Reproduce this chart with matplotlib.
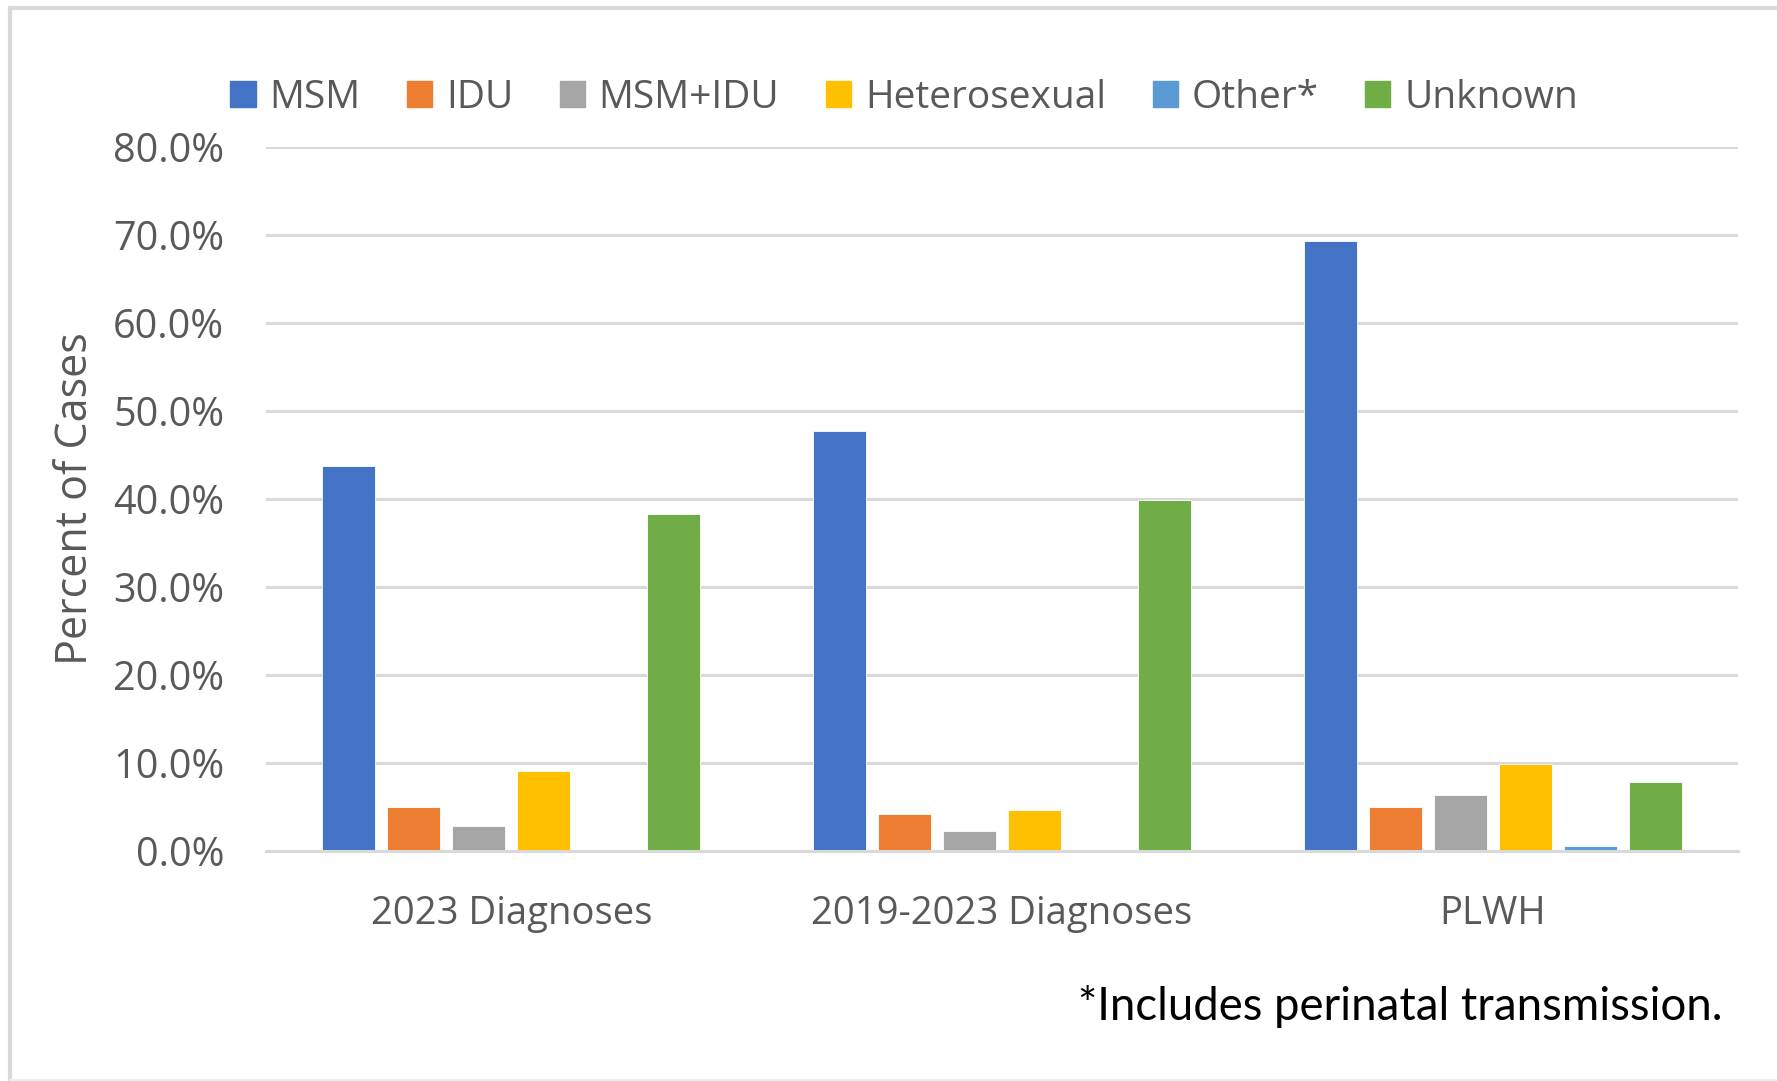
import matplotlib
matplotlib.use("Agg")
import matplotlib.pyplot as plt
import numpy as np
from matplotlib.lines import Line2D

categories = ["2023 Diagnoses", "2019-2023 Diagnoses", "PLWH"]
series_names = ["MSM", "IDU", "MSM+IDU", "Heterosexual", "Other*", "Unknown"]
msm = [43.7, 47.7, 69.3]
idu = [5.0, 4.2, 5.0]
msm_idu = [2.8, 2.3, 6.4]
hetero = [9.1, 4.7, 9.9]
other = [0.0, 0.0, 0.6]
unknown = [38.3, 39.9, 7.8]
yticks = [0, 10, 20, 30, 40, 50, 60, 70, 80]
ytick_labels = ["0.0%", "10.0%", "20.0%", "30.0%", "40.0%", "50.0%", "60.0%", "70.0%", "80.0%"]
footnote = "*Includes perinatal transmission."

colors = ["#4472C4", "#ED7D31", "#A5A5A5", "#FFC000", "#5B9BD5", "#70AD47"]
data = [msm, idu, msm_idu, hetero, other, unknown]

W, H = 1777, 1081
fig = plt.figure(figsize=(W / 100, H / 100), dpi=100)
font = ["Open Sans", "DejaVu Sans"]
gray = "#595959"

ax = fig.add_axes([266 / W, 1 - 851 / H, (1738 - 266) / W, (851 - 147) / H])
x = np.arange(len(categories))
slot = 0.1325
bw = 0.108
for i, (vals, c, name) in enumerate(zip(data, colors, series_names)):
    ax.bar(x + (i - 2.5) * slot, vals, width=bw, color=c, label=name, zorder=3,
           edgecolor="white", linewidth=0.6)

ax.set_xlim(-0.5, 2.5)
ax.set_ylim(0, 80)
ax.set_yticks(yticks)
ax.set_yticklabels(ytick_labels, fontfamily=font, fontsize=28.5, color=gray)
ax.set_xticks(x)
ax.set_xticklabels(categories, fontfamily=font, fontsize=27.5, color=gray)
ax.tick_params(axis="both", length=0)
ax.tick_params(axis="y", pad=30)
ax.tick_params(axis="x", pad=31.5)
ax.grid(axis="y", color="#d9d9d9", linewidth=2.2, zorder=0)
ax.set_axisbelow(True)
for s in ["top", "right", "left"]:
    ax.spines[s].set_visible(False)
ax.spines["bottom"].set_color("#d9d9d9")
ax.spines["bottom"].set_linewidth(2.2)
ax.spines["bottom"].set_zorder(4)

fig.text(76 / W, 1 - 499 / H, "Percent of Cases", rotation=90, ha="center", va="center",
         fontfamily=font, fontsize=31, color=gray)

handles = [plt.Rectangle((0, 0), 1, 1, color=c) for c in colors]
leg = fig.legend(handles, series_names, loc="center", bbox_to_anchor=(904 / W, 1 - 98 / H),
                 ncol=6, frameon=False, prop={"family": font, "size": 28},
                 handlelength=0.65, handleheight=0.65, handletextpad=0.35, columnspacing=1.2,
                 labelcolor=gray)

fig.text(1723 / W, 1 - 1006 / H, footnote, ha="right", va="center",
         fontfamily=["Lato", "DejaVu Sans"], fontsize=32.8, color="black")

# chart border
fig.add_artist(Line2D([9.5 / W, 9.5 / W], [0, 1 - 8 / H], transform=fig.transFigure,
                      color="#d9d9d9", linewidth=3))
fig.add_artist(Line2D([9.5 / W, 1], [1 - 8 / H, 1 - 8 / H], transform=fig.transFigure,
                      color="#d9d9d9", linewidth=3))
fig.add_artist(Line2D([9.5 / W, 1], [1 / H, 1 / H], transform=fig.transFigure,
                      color="#eeeeee", linewidth=1.5))

fig.savefig("out.png", dpi=100)
